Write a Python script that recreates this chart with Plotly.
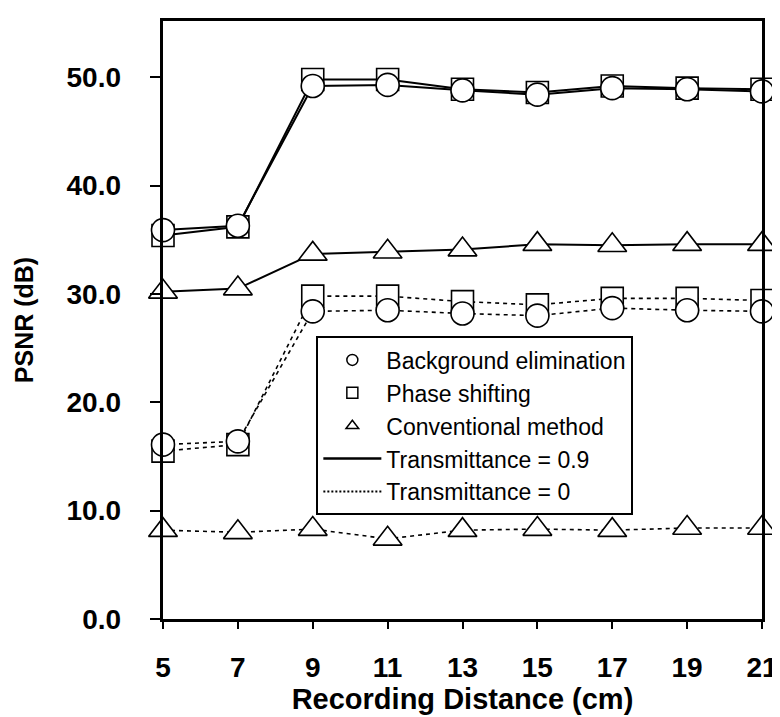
import plotly.graph_objects as go

# ---- data ----
distance = [5, 7, 9, 11, 13, 15, 17, 19, 21]
x_ticks = [5, 7, 9, 11, 13, 15, 17, 19, 21]
y_ticks = [0, 10, 20, 30, 40, 50]

bg_elim_t09 = [35.9, 36.3, 49.2, 49.3, 48.8, 48.4, 49.0, 48.9, 48.7]
phase_t09 = [35.4, 36.2, 49.8, 49.8, 48.9, 48.6, 49.2, 49.0, 48.9]
conv_t09 = [30.2, 30.5, 33.7, 33.9, 34.1, 34.6, 34.5, 34.6, 34.6]

bg_elim_t0 = [16.1, 16.4, 28.4, 28.5, 28.2, 28.0, 28.7, 28.5, 28.4]
phase_t0 = [15.5, 16.1, 29.8, 29.8, 29.3, 29.0, 29.6, 29.6, 29.4]
conv_t0 = [8.2, 8.0, 8.3, 7.4, 8.2, 8.3, 8.2, 8.4, 8.4]

legend_names = ["Background elimination", "Phase shifting", "Conventional method",
                "Transmittance = 0.9", "Transmittance = 0"]

FONT = "Liberation Sans, Arial, sans-serif"
NBSP = "\u00a0"

fig = go.Figure()

def add_series(y, symbol, size, dash):
    fig.add_trace(go.Scatter(
        x=distance, y=y, mode="lines+markers", showlegend=False,
        cliponaxis=False,
        line=dict(color="black", width=2 if dash == "solid" else 1.6, dash=dash),
        marker=dict(symbol=symbol, size=size, color="white",
                    line=dict(color="black", width=1.6)),
    ))

DOT = "4px,4px"
# dotted (transmittance 0)
add_series(conv_t0, "triangle-up", 25, DOT)
add_series(phase_t0, "square", 22, DOT)
add_series(bg_elim_t0, "circle", 23, DOT)
# solid (transmittance 0.9)
add_series(conv_t09, "triangle-up", 25, "solid")
add_series(phase_t09, "square", 22, "solid")
add_series(bg_elim_t09, "circle", 23, "solid")

# legend-only entries
for name, sym in zip(legend_names[:3], ["circle", "square", "triangle-up"]):
    fig.add_trace(go.Scatter(
        x=[None], y=[None], mode="markers", name=name, legendgroup=name,
        marker=dict(symbol=sym, size=11, color="white",
                    line=dict(color="black", width=1.5)),
    ))
fig.add_trace(go.Scatter(x=[None], y=[None], mode="lines", name=legend_names[3],
                         legendgroup=legend_names[3],
                         line=dict(color="black", width=2.5)))
fig.add_trace(go.Scatter(x=[None], y=[None], mode="lines", name=legend_names[4],
                         legendgroup=legend_names[4],
                         line=dict(color="black", width=2, dash="2px,2px")))

fig.update_layout(
    width=780, height=717,
    margin=dict(l=155, r=20, t=10, b=106),
    paper_bgcolor="white", plot_bgcolor="white",
    font=dict(family=FONT, color="black"),
    showlegend=True,
    legend=dict(
        x=0.256, y=0.4725, xanchor="left", yanchor="top",
        bgcolor="white", bordercolor="black", borderwidth=2,
        font=dict(family=FONT, size=23, color="black"),
        traceorder="normal", itemwidth=58, tracegroupgap=0,
    ),
)

fig.update_xaxes(
    range=[5, 21], tickvals=x_ticks, ticktext=[str(v) for v in x_ticks],
    showgrid=False, zeroline=False,
    showline=True, linecolor="black", linewidth=3, mirror=True,
    ticks="outside", ticklen=7, tickwidth=1.5, tickcolor="black",
    tickfont=dict(family=FONT, size=28, color="black", weight="bold"),
    ticklabelstandoff=14,
    title=dict(text="Recording Distance (cm)", standoff=7,
               font=dict(family=FONT, size=29, color="black", weight="bold")),
)
fig.update_yaxes(
    range=[0, 55.2], tickvals=y_ticks,
    ticktext=[f"{v:.1f}" + NBSP * 3 for v in y_ticks],
    showgrid=False, zeroline=False,
    showline=True, linecolor="black", linewidth=3, mirror=True,
    ticks="outside", ticklen=10, tickwidth=2, tickcolor="black",
    tickfont=dict(family=FONT, size=28, color="black", weight="bold"),
    title=dict(text="PSNR (dB)", standoff=26,
               font=dict(family=FONT, size=25, color="black", weight="bold")),
)

fig.write_html("out.html")
